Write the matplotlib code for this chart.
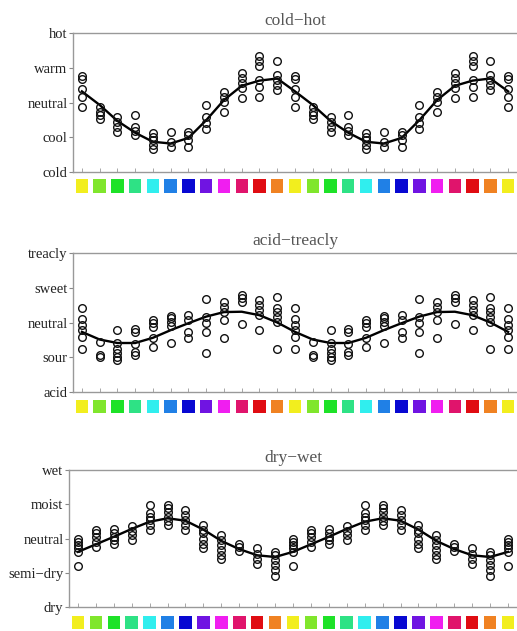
import matplotlib
matplotlib.use("Agg")
import matplotlib.pyplot as plt

plt.rcParams['font.family'] = ['Liberation Serif', 'DejaVu Serif']

# hue wheel: 12 colour squares, the wheel is shown twice and then the first again
hue_colors = ['#f2ee1e', '#80e62c', '#1ee228', '#2ee285', '#30eeee', '#2080e6',
              '#0808d2', '#7014e2', '#f01ef0', '#e0146c', '#e00c12', '#f08222']
n_repeat = 25

# ratings per hue (0 = lowest label ... 4 = highest label)
cold_hot_labels = ['cold', 'cool', 'neutral', 'warm', 'hot']
cold_hot_pts = [
    [2.75, 2.67, 2.38, 2.15, 1.86],
    [1.88, 1.74, 1.64, 1.52],
    [1.59, 1.45, 1.30, 1.16],
    [1.64, 1.30, 1.18, 1.06],
    [1.13, 1.01, 0.92, 0.77, 0.66],
    [1.16, 0.87, 0.72],
    [1.16, 1.06, 0.92, 0.72],
    [1.93, 1.59, 1.40, 1.25],
    [2.31, 2.17, 2.02, 1.73],
    [2.84, 2.70, 2.55, 2.41, 2.12],
    [3.33, 3.18, 3.04, 2.65, 2.46, 2.17],
    [3.18, 2.80, 2.65, 2.51, 2.36],
]
cold_hot_fit = [2.32, 1.93, 1.47, 1.13, 0.87, 0.82, 0.98, 1.49, 2.07, 2.48, 2.63, 2.69]

acid_treacly_labels = ['acid', 'sour', 'neutral', 'sweet', 'treacly']
acid_treacly_pts = [
    [2.41, 2.09, 1.93, 1.78, 1.57, 1.25],
    [1.45, 1.06, 1.01],
    [1.78, 1.40, 1.25, 1.13, 1.01, 0.93],
    [1.80, 1.73, 1.38, 1.16, 1.06],
    [2.07, 1.98, 1.88, 1.54, 1.30],
    [2.19, 2.12, 2.02, 1.90, 1.42],
    [2.22, 2.07, 1.73, 1.54],
    [2.68, 2.17, 1.98, 1.73, 1.11],
    [2.60, 2.46, 2.31, 2.07, 1.54],
    [2.80, 2.70, 2.60, 1.96],
    [2.65, 2.51, 2.36, 2.22, 1.78],
    [2.73, 2.41, 2.31, 2.17, 2.02, 1.25],
]
acid_treacly_fit = [1.73, 1.51, 1.41, 1.41, 1.56, 1.78, 1.98, 2.17, 2.30, 2.31, 2.21, 2.00]

dry_wet_labels = ['dry', 'semi\u2212dry', 'neutral', 'moist', 'wet']
dry_wet_pts = [
    [2.00, 1.90, 1.80, 1.71, 1.61, 1.19],
    [2.24, 2.15, 2.05, 1.90, 1.76],
    [2.29, 2.15, 2.05, 1.95, 1.85],
    [2.36, 2.22, 2.10, 1.97],
    [2.98, 2.73, 2.63, 2.54, 2.39, 2.24],
    [2.98, 2.88, 2.78, 2.63, 2.52, 2.39],
    [2.83, 2.68, 2.54, 2.39, 2.26],
    [2.39, 2.26, 2.15, 2.00, 1.85, 1.71],
    [2.10, 1.95, 1.80, 1.66, 1.51, 1.41],
    [1.85, 1.76, 1.64],
    [1.71, 1.56, 1.41, 1.27],
    [1.61, 1.51, 1.37, 1.22, 1.07, 0.90],
]
dry_wet_fit = [1.61, 1.83, 2.05, 2.28, 2.49, 2.59, 2.52, 2.26, 1.93, 1.69, 1.51, 1.46]

W, H = 517, 631
fig = plt.figure(figsize=(W / 100, H / 100), dpi=100)
fig.patch.set_facecolor('white')


def px_axes(left, top, right, bottom):
    return fig.add_axes([left / W, 1 - bottom / H, (right - left) / W, (bottom - top) / H])


def draw_panel(title, labels, pts, fit, left, top, bottom, strip_top, strip_bottom):
    ax = px_axes(left, top, W, bottom)
    xs, ys, fx, fy = [], [], [], []
    for i in range(n_repeat):
        col = pts[i % 12]
        xs += [i] * len(col)
        ys += col
        fx.append(i)
        fy.append(fit[i % 12])
    ax.plot(fx, fy, color='black', lw=1.7, zorder=2)
    ax.plot(xs, ys, 'o', ms=5.5, mfc='none', mec='#111111', mew=1.0, zorder=3)
    ax.set_xlim(-0.5, n_repeat - 0.5)
    ax.set_ylim(0, 4)
    ax.set_yticks(range(5))
    ax.set_yticklabels(labels, fontsize=10.5, color='#222222')
    ax.set_xticks(range(n_repeat))
    ax.set_xticklabels([])
    ax.tick_params(axis='y', direction='out', length=3, width=0.8, color='#888888', pad=1)
    ax.tick_params(axis='x', direction='in', length=3, width=0.6, color='#999999')
    for s in ['left', 'top', 'bottom']:
        ax.spines[s].set_color('#999999')
        ax.spines[s].set_linewidth(1.0)
    ax.spines['right'].set_visible(False)
    ax.set_title(title, fontsize=12.5, color='#555555', pad=6)

    sx = px_axes(left, strip_top, W, strip_bottom)
    sx.bar(range(n_repeat), [1] * n_repeat, width=0.7,
           color=[hue_colors[i % 12] for i in range(n_repeat)])
    sx.set_xlim(-0.5, n_repeat - 0.5)
    sx.set_ylim(0, 1)
    sx.axis('off')


draw_panel('cold\u2212hot', cold_hot_labels, cold_hot_pts, cold_hot_fit,
           73, 33, 172, 179, 193)
draw_panel('acid\u2212treacly', acid_treacly_labels, acid_treacly_pts, acid_treacly_fit,
           73, 253, 392, 400, 413)
draw_panel('dry\u2212wet', dry_wet_labels, dry_wet_pts, dry_wet_fit,
           69, 470, 607, 616, 629)

fig.savefig('out.png', dpi=100, facecolor='white')
